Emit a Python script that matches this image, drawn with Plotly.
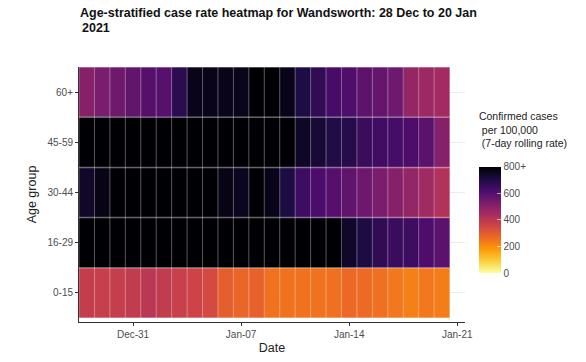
import pandas as pd
import plotly.graph_objects as go

dates = pd.date_range("2020-12-28", "2021-01-20", freq="D")
age_groups = ["0-15", "16-29", "30-44", "45-59", "60+"]

# 7-day rolling case rate per 100,000 (values above 800 shown as 800+)
rate_0_15 = [380, 375, 378, 385, 400, 385, 370, 360, 340, 290, 275, 285,
             250, 250, 250, 250, 255, 270, 265, 255, 240, 225, 240, 230]
rate_16_29 = [850, 860, 870, 880, 880, 880, 880, 870, 870, 860, 860, 850,
              840, 840, 830, 830, 820, 745, 710, 670, 650, 645, 615, 590]
rate_30_44 = [745, 775, 810, 820, 830, 830, 820, 815, 810, 775, 760, 805,
              770, 710, 645, 620, 600, 580, 555, 530, 505, 480, 455, 420]
rate_45_59 = [880, 900, 910, 920, 920, 920, 910, 900, 900, 890, 880, 860,
              830, 815, 750, 725, 700, 690, 655, 640, 630, 615, 590, 505]
rate_60p = [505, 530, 550, 575, 600, 598, 680, 770, 770, 768, 765, 810,
            805, 770, 705, 670, 628, 612, 585, 570, 552, 478, 462, 448]

z = [rate_0_15, rate_16_29, rate_30_44, rate_45_59, rate_60p]

tick_dates = pd.to_datetime(["2020-12-31", "2021-01-07", "2021-01-14", "2021-01-21"])
cbar_vals = [0, 200, 400, 600, 800]
cbar_text = ["0", "200", "400", "600", "800+"]

fig = go.Figure(go.Heatmap(
    x=dates, y=age_groups, z=z,
    zmin=0, zmax=800,
    colorscale="Inferno", reversescale=True,
    colorbar=dict(
        title=dict(text="Confirmed cases<br> per 100,000<br> (7-day rolling rate)<br>&nbsp;",
                   side="top", font=dict(size=10.5, color="#222")),
        x=1.036, xanchor="left", y=(322 - 273) / 255, yanchor="bottom",
        len=164, lenmode="pixels", thickness=22, thicknessmode="pixels",
        outlinewidth=0, ypad=0, xpad=0,
        tickvals=cbar_vals, ticktext=cbar_text,
        ticks="inside", ticklen=4, tickcolor="rgba(255,255,255,0.6)",
        tickfont=dict(size=10, color="#4d4d4d"),
    ),
))

# thin translucent tile borders, derived from the category/date positions
half_day = pd.Timedelta(hours=12)
border = dict(color="rgba(255,255,255,0.35)", width=1)
for d in list(dates) + [dates[-1] + pd.Timedelta(days=1)]:
    fig.add_shape(type="line", x0=d - half_day, x1=d - half_day,
                  y0=-0.5, y1=len(age_groups) - 0.5, xref="x", yref="y",
                  line=border, layer="above")
for i in range(len(age_groups) + 1):
    fig.add_shape(type="line", x0=dates[0] - half_day, x1=dates[-1] + half_day,
                  y0=i - 0.5, y1=i - 0.5, xref="x", yref="y",
                  line=dict(color="rgba(255,255,255,0.4)", width=1.5), layer="above")

fig.add_annotation(text="<b>2021</b>", xref="paper", yref="paper",
                   x=1 / 386, y=(322 - 19) / 255, xanchor="left", yanchor="top",
                   showarrow=False, font=dict(size=12.5, color="#111"))

fig.update_layout(
    width=586, height=362,
    margin=dict(l=79, r=121, t=67, b=40, autoexpand=False),
    paper_bgcolor="white", plot_bgcolor="white",
    font=dict(family="Liberation Sans, Arial, sans-serif"),
    title=dict(text="<b>Age-stratified case rate heatmap for Wandsworth: 28 Dec to 20 Jan</b>",
               x=80/586, xanchor="left", xref="container",
               y=1-8/362, yanchor="top", yref="container",
               font=dict(size=12.5, color="#111")),
    xaxis=dict(
        range=[pd.Timestamp("2020-12-27 12:00"), pd.Timestamp("2021-01-21 12:00")],
        tickvals=tick_dates, tickformat="%b-%d", automargin=False,
        showgrid=False, zeroline=False,
        showline=True, linecolor="#333", linewidth=1,
        ticks="outside", ticklen=3, tickcolor="#333",
        tickfont=dict(size=10, color="#4d4d4d"),
        title=dict(text="Date", font=dict(size=12.5, color="#222"), standoff=4),
    ),
    yaxis=dict(
        range=[-0.58, 4.5], automargin=False,
        showgrid=True, gridcolor="#ebebeb", gridwidth=1, zeroline=False,
        showline=True, linecolor="#333", linewidth=1,
        ticks="outside", ticklen=3, tickcolor="#333",
        tickfont=dict(size=10, color="#4d4d4d"),
        title=dict(text="Age group", font=dict(size=12.5, color="#222"), standoff=8),
    ),
)

fig.write_html("out.html", config={"displayModeBar": False},
               post_script="document.body.style.margin='0';")
